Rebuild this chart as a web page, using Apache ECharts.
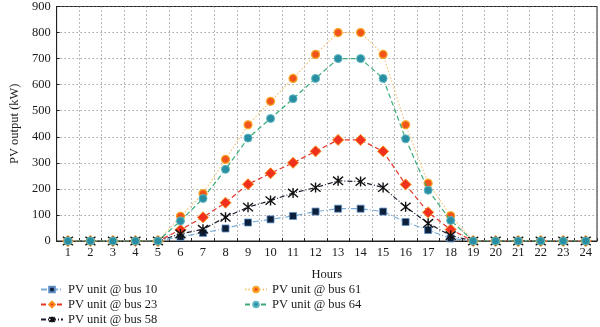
<!DOCTYPE html>
<html>
<head>
<meta charset="utf-8">
<script src="https://cdn.jsdelivr.net/npm/echarts@6/dist/echarts.min.js"></script>
<style>
  html, body { margin: 0; padding: 0; background: #fff; }
  #chart { width: 600px; height: 327px; }
</style>
</head>
<body>
<div id="chart"></div>
<script>
// Hourly PV output (kW) for five PV units
const hours = ['1','2','3','4','5','6','7','8','9','10','11','12','13','14','15','16','17','18','19','20','21','22','23','24'];
const bus10 = [0,0,0,0,0,16,31,48,71,83,96,113,124,124,113,73,42,10,0,0,0,0,0,0];
const bus23 = [0,0,0,0,0,43,91,147,218,260,300,344,388,388,344,217,110,44,0,0,0,0,0,0];
const bus58 = [0,0,0,0,0,27,45,91,130,155,184,205,231,228,205,131,68,21,0,0,0,0,0,0];
const bus61 = [0,0,0,0,0,95,182,313,446,536,624,716,800,800,716,446,222,97,0,0,0,0,0,0];
const bus64 = [0,0,0,0,0,77,163,275,395,470,546,624,700,700,624,392,195,79,0,0,0,0,0,0];
const yTicks = { min: 0, max: 900, step: 100 };

const FONT = '"Liberation Serif", "DejaVu Serif", serif';
const TXT = '#1a1a1a';

// asterisk-like cross: X with a vertical stroke
const starPath = 'path://M0,0 L10,10 M10,0 L0,10 M5,-1 L5,11';

const chart = echarts.init(document.getElementById('chart'));

function mkSeries(name, data, o) {
  return {
    name: name,
    type: 'line',
    data: data,
    symbol: o.symbol,
    symbolSize: o.size,
    z: o.z,
    lineStyle: { color: o.line, width: 1.2, type: o.dash },
    itemStyle: { color: o.fill, borderColor: o.border, borderWidth: o.bw },
    emphasis: { disabled: true },
    animation: false
  };
}

const series = [
  mkSeries('PV unit @ bus 10', bus10, { symbol: 'rect', size: 7, line: '#7aaed8', dash: [6, 2, 1, 2], fill: '#0e1f3a', border: '#5d8fc4', bw: 0.8, z: 2 }),
  mkSeries('PV unit @ bus 23', bus23, { symbol: 'diamond', size: 11, line: '#e8352a', dash: [5, 3], fill: '#f0301c', border: '#f7901e', bw: 1, z: 3 }),
  mkSeries('PV unit @ bus 58', bus58, { symbol: starPath, size: 10, line: '#1c1c30', dash: [5, 2, 1, 2], fill: 'rgba(0,0,0,0)', border: '#111', bw: 1.4, z: 4 }),
  mkSeries('PV unit @ bus 61', bus61, { symbol: 'circle', size: 8, line: '#f6c77c', dash: [1.5, 2], fill: '#f0541a', border: '#f8a526', bw: 1.2, z: 5 }),
  mkSeries('PV unit @ bus 64', bus64, { symbol: 'circle', size: 8, line: '#3aac78', dash: [5, 3], fill: '#2a8ea2', border: '#5fb7c0', bw: 1, z: 6 })
];

const legendCommon = {
  orient: 'vertical',
  itemWidth: 22,
  itemHeight: 7,
  itemGap: 2,
  padding: 0,
  textStyle: { fontFamily: FONT, fontSize: 12.5, color: TXT, lineHeight: 13 },
  selectedMode: false
};

chart.setOption({
  backgroundColor: '#fff',
  animation: false,
  grid: {
    left: 40, right: 3, top: 3, bottom: 86,
    show: true, borderColor: '#222', borderWidth: 1
  },
  legend: [
    Object.assign({}, legendCommon, { left: 40, top: 283, data: series.slice(0, 3).map(s => s.name) }),
    Object.assign({}, legendCommon, { left: 244, top: 283, data: series.slice(3).map(s => s.name) })
  ],
  xAxis: {
    type: 'category',
    data: hours,
    boundaryGap: true,
    name: 'Hours',
    nameLocation: 'middle',
    nameGap: 27,
    nameTextStyle: { fontFamily: FONT, fontSize: 12.5, color: TXT },
    axisLine: { lineStyle: { color: '#222', width: 1 } },
    axisTick: { show: true, inside: true, length: 3, lineStyle: { color: '#222' } },
    axisLabel: { fontFamily: FONT, fontSize: 12.5, color: TXT, margin: 5 },
    splitLine: { show: true, lineStyle: { color: '#777', type: [1, 3], width: 1 } }
  },
  yAxis: {
    type: 'value',
    min: yTicks.min, max: yTicks.max, interval: yTicks.step,
    name: 'PV output (kW)',
    nameLocation: 'middle',
    nameGap: 30,
    nameRotate: 90,
    nameTextStyle: { fontFamily: FONT, fontSize: 12.5, color: TXT },
    axisLine: { show: true, lineStyle: { color: '#222', width: 1 } },
    axisTick: { show: true, inside: true, length: 3, lineStyle: { color: '#222' } },
    axisLabel: { fontFamily: FONT, fontSize: 12.5, color: TXT, margin: 6 },
    splitLine: { show: true, lineStyle: { color: '#777', type: [1, 3], width: 1 } }
  },
  series: series
});
</script>
</body>
</html>
